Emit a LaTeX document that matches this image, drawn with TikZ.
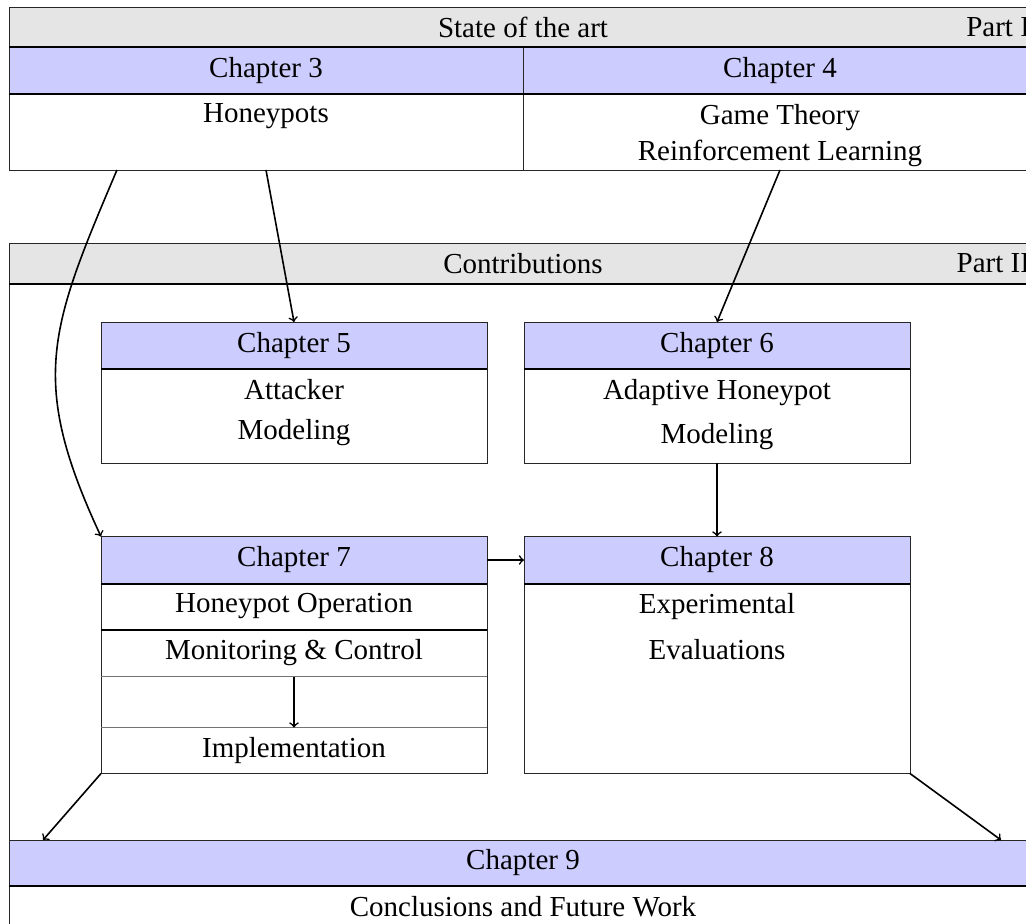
\documentclass[tikz,border=0pt]{standalone}
\usepackage{fontspec}
\setmainfont{Liberation Serif}
\usetikzlibrary{positioning,calc}

\tikzset{
    box/.style={draw=black!85, line width=0.5pt, inner sep=0pt, outer sep=0pt},
    parthead/.style={box, fill=gray!20, minimum width=514pt, minimum height=20pt},
    chaphead/.style={box, fill=blue!20, minimum width=193pt, minimum height=23.5pt},
    chapbody/.style={box, fill=white, minimum width=193pt},
    bodytext/.style={anchor=north, align=center, inner sep=4.8pt},
    sep/.style={line width=1pt, black},
    softsep/.style={line width=0.6pt, black!55},
    link/.style={->, line width=0.8pt}
}

\begin{document}
\begin{tikzpicture}[x=0.5pt, y=-0.5pt, node distance=0pt, font=\fontsize{14.5}{18}\selectfont]
    \useasboundingbox (0,0) rectangle (1026,923);
    \clip (0,0) rectangle (1026,923);

    % Part I: state of the art
    \node[parthead] (soa) at (523,27) {State of the art};
    \node[anchor=east] (part1) at (soa.east) {Part I};
    \node[chaphead, minimum width=257pt, anchor=north west] (ch3) at (soa.south west) {Chapter 3};
    \node[chaphead, minimum width=257pt, anchor=north west] (ch4) at (ch3.north east) {Chapter 4};
    \node[chapbody, minimum width=257pt, minimum height=38pt, below=of ch3] (ch3body) {};
    \node[chapbody, minimum width=257pt, minimum height=38pt, below=of ch4] (ch4body) {};
    \node[bodytext] (ch3text) at (ch3body.north) {Honeypots};
    \node[bodytext] (ch4text) at (ch4body.north) {Game Theory\\Reinforcement Learning};
    \draw[sep] (soa.south west) -- (soa.south east);
    \draw[sep] (ch3body.north west) -- (ch4body.north east);

    % Part II: contributions
    \node[box, minimum width=514pt, minimum height=373pt, anchor=north west] (contribframe) at (9,243) {};
    \node[parthead, minimum height=20.5pt] (contrib) at (523,263.5) {Contributions};
    \node[anchor=east] (part2) at (contrib.east) {Part II};
    \draw[sep] (contrib.south west) -- (contrib.south east);

    % Chapters with one body cell
    \foreach \id/\cx/\cy/\bodyh/\lineA/\lineB/\gap in {
        5/294/345.5/47/Attacker/Modeling/2,
        6/717/345.5/47/Adaptive Honeypot/Modeling/4,
        8/717/560/95/Experimental/Evaluations/5
    } {
        \node[chaphead] (ch\id) at (\cx,\cy) {Chapter \id};
        \node[chapbody, minimum height=\bodyh pt, below=of ch\id] (ch\id body) {};
        \node[bodytext] (ch\id text) at (ch\id body.north) {\lineA\\[\gap pt]\lineB};
        \draw[sep] (ch\id.south west) -- (ch\id.south east);
    }

    % Chapter 7 with its rows
    \node[chaphead] (ch7) at (294,560) {Chapter 7};
    \node[chapbody, minimum height=23pt, below=of ch7] (ch7op) {Honeypot Operation};
    \node[chapbody, minimum height=23.5pt, below=of ch7op] (ch7mon) {Monitoring \& Control};
    \node[chapbody, minimum height=25.5pt, below=of ch7mon] (ch7gap) {};
    \node[chapbody, minimum height=23pt, below=of ch7gap] (ch7impl) {Implementation};
    \draw[sep] (ch7.south west) -- (ch7.south east);
    \draw[sep] (ch7op.south west) -- (ch7op.south east);
    \draw[softsep] (ch7mon.south west) -- (ch7mon.south east);
    \draw[softsep] (ch7gap.south west) -- (ch7gap.south east);

    % Chapter 9
    \node[chaphead, minimum width=514pt, minimum height=23pt] (ch9) at (523,863) {Chapter 9};
    \node[chapbody, minimum width=514pt, minimum height=40pt, below=of ch9] (ch9body) {};
    \node[bodytext] (ch9text) at (ch9body.north) {Conclusions and Future Work};
    \draw[sep] (ch9.south west) -- (ch9.south east);

    % Links
    \draw[link] (ch3body.south) -- (ch5.north);
    \draw[link] (ch4body.south) -- (ch6.north);
    \draw[link] ($(ch3body.south west)!0.21!(ch3body.south east)$)
        to[out=247, in=115, looseness=1.2] (ch7.north west);
    \draw[link] (ch6body.south) -- (ch8.north);
    \draw[link] (ch7.east) -- (ch8.west);
    \draw[link] (ch7mon.south) -- (ch7impl.north);
    \draw[link] (ch7impl.south west) -- ([xshift=17pt]ch9.north west);
    \draw[link] (ch8body.south east) -- ([xshift=-18pt]ch9.north east);
\end{tikzpicture}
\end{document}
